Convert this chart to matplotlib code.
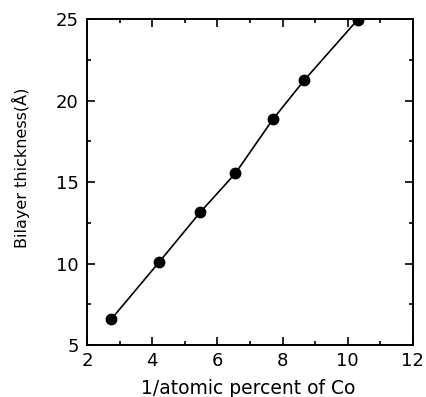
import numpy as np
import matplotlib.pyplot as plt
from matplotlib.ticker import MultipleLocator

# 1/atomic percent of Co vs bilayer thickness
inv_co = [2.74, 4.22, 5.47, 6.55, 7.71, 8.67, 10.3]
thickness = [6.58, 10.11, 13.14, 15.53, 18.87, 21.26, 24.95]

plt.rcParams['font.family'] = ['DejaVu Sans']

fig = plt.figure(figsize=(4.27, 3.97), dpi=100)
ax = fig.add_axes([0.204, 0.131, 0.763, 0.821])

ax.plot(inv_co, thickness, color='black', lw=1.2, marker='o', ms=7.5,
        mfc='black', mec='black')

ax.set_xlim(2, 12)
ax.set_ylim(5, 25)
ax.xaxis.set_major_locator(MultipleLocator(2))
ax.xaxis.set_minor_locator(MultipleLocator(1))
ax.yaxis.set_major_locator(MultipleLocator(5))
ax.yaxis.set_minor_locator(MultipleLocator(2.5))
ax.tick_params(which='both', direction='in', top=True, right=True,
               labelsize=13, width=1.2)
ax.tick_params(which='major', length=6)
ax.tick_params(which='minor', length=3)
ax.tick_params(axis='x', pad=5)
ax.tick_params(axis='y', pad=6)
for s in ax.spines.values():
    s.set_linewidth(1.4)

ax.set_xlabel('1/atomic percent of Co', fontsize=13.5, va='center')
ax.set_ylabel('Bilayer thickness(Å)', fontsize=11.5, va='center')
ax.xaxis.set_label_coords(0.495, -0.135)
ax.yaxis.set_label_coords(-0.202, 0.543)

fig.savefig('out.png', dpi=100)
